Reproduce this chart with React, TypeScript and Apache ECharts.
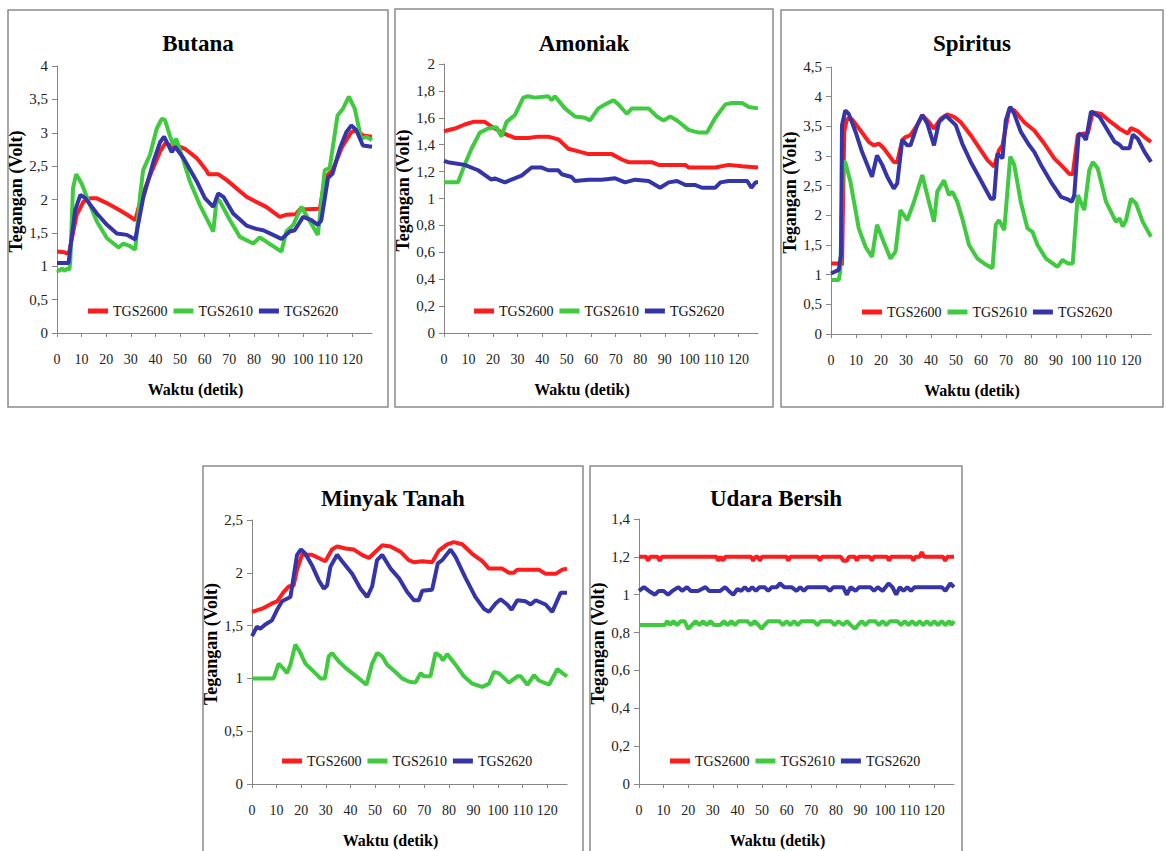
import React, { useEffect, useRef } from 'react';
import * as echarts from 'echarts';

// ---------- data ----------
const SENSORS = ['TGS2600', 'TGS2610', 'TGS2620'];
const COLORS = ['#ff1c1c', '#3fca3f', '#3535a9'];
const TITLES = ['Butana', 'Amoniak', 'Spiritus', 'Minyak Tanah', 'Udara Bersih'];
const X_TICKS = [0, 10, 20, 30, 40, 50, 60, 70, 80, 90, 100, 110, 120];
const X_MAX = 128;
const Y_MAX = [4, 2, 4.5, 2.5, 1.4];
const Y_STEP = [0.5, 0.2, 0.5, 0.5, 0.2];
const X_NAME = 'Waktu (detik)';
const Y_NAME = 'Tegangan (Volt)';

const butana2600 = [[0,1.22],[3,1.21],[4,1.19],[5,1.22],[6.5,1.5],[8,1.77],[10.8,1.97],[13.5,2.02],[16,2.02],[20,1.95],[25,1.85],[29,1.76],[31.8,1.69],[33.8,1.97],[37.8,2.36],[41.9,2.72],[44,2.84],[46,2.81],[48.6,2.81],[52,2.76],[56.8,2.62],[60.8,2.43],[61.5,2.38],[65.5,2.38],[69,2.29],[77,2.04],[85,1.89],[90.5,1.74],[93,1.77],[97,1.78],[98.6,1.85],[106.8,1.86],[108.8,2.3],[110.5,2.39],[112,2.44],[116,2.8],[119.6,3.01],[121.6,3.04],[124.3,2.96],[128,2.94]];
const butana2610 = [[0,0.95],[1,0.93],[2,0.97],[3,0.93],[4,0.96],[5,0.95],[5.4,1.07],[6.5,2.17],[7.8,2.38],[10,2.24],[12.8,1.97],[16.2,1.67],[20.3,1.42],[25,1.28],[27,1.34],[29.7,1.3],[31.8,1.25],[33.8,2.07],[35,2.44],[37.8,2.67],[40.5,3.06],[42.6,3.21],[43.9,3.19],[46,2.94],[47.3,2.81],[48.4,2.91],[50.7,2.66],[54,2.27],[58,1.92],[63.5,1.52],[64.9,2.02],[66.2,1.97],[70.3,1.69],[74.3,1.44],[79.7,1.34],[82.4,1.43],[85,1.37],[91.2,1.22],[93.2,1.52],[96,1.62],[99.3,1.89],[102,1.72],[106,1.47],[108.8,2.44],[110.8,2.47],[114,3.26],[116.2,3.36],[118.6,3.54],[121,3.36],[123.6,2.91],[125.7,2.94],[128,2.89]];
const butana2620 = [[0,1.05],[4.7,1.05],[5.4,1.27],[7.4,1.84],[9.5,2.07],[11.5,2.02],[16.2,1.79],[20.3,1.62],[24.3,1.49],[28.4,1.47],[31.8,1.4],[35,2.02],[39.2,2.57],[41.9,2.86],[43.5,2.94],[45.3,2.81],[46.6,2.71],[48,2.79],[51.4,2.62],[56.8,2.27],[60.1,2.02],[63.5,1.89],[65.5,2.09],[67.6,2.04],[71.6,1.79],[77,1.61],[81,1.56],[83.8,1.54],[87.8,1.47],[91.2,1.41],[94.6,1.52],[96.6,1.54],[100,1.74],[103.4,1.69],[106,1.62],[107.4,1.69],[110.1,2.32],[112,2.39],[114.9,2.76],[117.6,3.01],[119.6,3.11],[121.6,3.04],[124.3,2.81],[128,2.79]];

const amoniak2600 = [[0,1.5],[4.4,1.52],[8.4,1.55],[11.9,1.57],[16.6,1.57],[20.7,1.52],[24.8,1.48],[28.9,1.45],[34.3,1.45],[38.4,1.46],[42.5,1.46],[46.6,1.44],[50.7,1.37],[54.8,1.35],[58.9,1.33],[68.4,1.33],[72.5,1.29],[75.2,1.27],[84.7,1.27],[87.5,1.25],[98.4,1.25],[99.7,1.23],[110.6,1.23],[116,1.25],[121.5,1.24],[128,1.23]];
const amoniak2610 = [[0,1.12],[5.7,1.12],[8.4,1.25],[11.2,1.37],[14.6,1.49],[18,1.52],[21.4,1.53],[23.4,1.46],[25.5,1.57],[28.9,1.62],[32.3,1.75],[34.3,1.76],[37,1.75],[42.5,1.76],[43.9,1.73],[45.2,1.76],[49.3,1.67],[53.4,1.61],[57.5,1.6],[59.5,1.58],[62.9,1.67],[65.7,1.7],[69.1,1.73],[71.1,1.7],[74.5,1.63],[76.6,1.67],[83.4,1.67],[86.8,1.61],[89.5,1.58],[92.2,1.61],[95,1.58],[99.7,1.51],[103.8,1.49],[107.2,1.49],[110.6,1.6],[114.7,1.7],[117.4,1.71],[121.5,1.71],[124.3,1.68],[128,1.67]];
const amoniak2620 = [[0,1.28],[1.6,1.27],[8.4,1.25],[13.9,1.21],[19.3,1.14],[20.7,1.15],[24.8,1.12],[27.5,1.14],[31.6,1.17],[35.7,1.23],[39.8,1.23],[42.5,1.21],[46.6,1.21],[48,1.18],[52,1.16],[53.4,1.13],[58.9,1.14],[64.3,1.14],[69.8,1.15],[73.8,1.12],[77.9,1.14],[83.4,1.13],[88.1,1.08],[91.6,1.12],[95,1.13],[98.4,1.1],[102.5,1.1],[105.2,1.08],[110.6,1.08],[112.7,1.12],[116,1.13],[120.2,1.13],[123.6,1.13],[125.3,1.08],[127,1.12],[128,1.12]];

const spiritus2600 = [[0,1.19],[3.7,1.19],[4.4,1.16],[5.3,3.41],[6.4,3.63],[8.4,3.62],[11.8,3.43],[15.1,3.24],[17.1,3.18],[19.1,3.21],[21.1,3.13],[25.1,2.9],[26.5,2.9],[28.5,3.27],[29.8,3.32],[31.8,3.35],[34.5,3.52],[36.5,3.69],[39.2,3.57],[41.2,3.46],[43.9,3.63],[46.5,3.7],[49.2,3.66],[51.9,3.57],[55.9,3.35],[59.9,3.1],[62.6,2.93],[65.2,2.82],[67.2,3.1],[68.6,3.18],[71.3,3.8],[73.3,3.77],[77.3,3.57],[81.3,3.43],[85.3,3.21],[89.3,2.96],[93.3,2.79],[95.3,2.7],[96.7,2.69],[98.7,3.35],[101.3,3.38],[102.7,3.38],[104.7,3.74],[108,3.71],[112,3.57],[115.4,3.46],[118.7,3.38],[120,3.47],[122.7,3.42],[125.4,3.32],[128,3.24]];
const spiritus2610 = [[0,0.91],[3.1,0.91],[3.7,1.05],[4.8,2.9],[5.7,2.9],[7.8,2.56],[11.1,1.78],[13.8,1.47],[16.4,1.3],[18.4,1.84],[21.1,1.55],[23.8,1.27],[25.8,1.39],[27.8,2.09],[30.5,1.92],[33.2,2.23],[36.5,2.68],[38.5,2.34],[41.2,1.89],[42.5,2.4],[45.2,2.59],[47.2,2.34],[48.5,2.4],[50.5,2.23],[52.5,1.95],[55.2,1.5],[58.6,1.27],[61.9,1.17],[64.6,1.11],[65.9,1.84],[67.2,1.92],[69.3,1.75],[71.7,2.99],[73.3,2.85],[75.9,2.23],[78.6,1.78],[80.6,1.72],[82.6,1.5],[86,1.27],[90.6,1.13],[92.6,1.25],[94.7,1.19],[96.7,1.19],[98.7,2.34],[101.3,2.09],[103.3,2.76],[104.7,2.9],[106.7,2.79],[110,2.23],[112.7,2.0],[114,1.89],[115.4,1.95],[116.7,1.81],[118,1.92],[120,2.28],[122,2.2],[124.7,1.89],[128,1.64]];
const spiritus2620 = [[0,1.02],[3.1,1.08],[4,1.33],[4.4,3.52],[5.7,3.77],[7.1,3.71],[9.8,3.41],[12.4,3.07],[15.1,2.79],[16.4,2.65],[18.4,3.01],[20.5,2.85],[22.5,2.65],[25.1,2.45],[26.5,2.54],[28.5,3.27],[30.5,3.18],[31.8,3.18],[34.5,3.52],[36.5,3.69],[38.5,3.55],[41.2,3.18],[43.2,3.57],[45.9,3.68],[47.9,3.6],[49.9,3.52],[52.5,3.21],[55.9,2.9],[59.9,2.59],[63.9,2.28],[65.2,2.28],[66.6,3.04],[68.6,2.96],[69.9,3.6],[71.7,3.83],[73.3,3.71],[75.9,3.41],[79.3,3.18],[81.3,3.07],[84,2.85],[88,2.56],[92,2.31],[94.7,2.27],[96.3,2.23],[97.3,2.34],[99.1,3.38],[100.7,3.35],[102,3.27],[104,3.75],[107.4,3.66],[110.7,3.43],[113.4,3.24],[115.4,3.19],[116.7,3.13],[119.4,3.13],[120.7,3.36],[122.7,3.29],[125.4,3.07],[128,2.9]];

const minyak2600 = [[0,1.63],[4.1,1.66],[8.1,1.71],[10.2,1.73],[12.9,1.82],[14.9,1.87],[16.9,1.88],[18.3,2.03],[20.3,2.17],[24.4,2.17],[27.1,2.14],[29.8,2.11],[32.5,2.22],[34.6,2.25],[38,2.23],[41.4,2.22],[44.7,2.17],[47.5,2.14],[50.2,2.2],[52.9,2.26],[56.3,2.25],[60.3,2.2],[63.7,2.12],[65.8,2.1],[69.2,2.11],[73.2,2.1],[75.9,2.21],[79.3,2.27],[82,2.29],[85.4,2.27],[89.5,2.18],[93.6,2.11],[96.3,2.04],[101.7,2.04],[104.4,2.0],[106.4,2.0],[107.8,2.03],[116.6,2.03],[119.3,1.99],[123.4,1.99],[126.1,2.03],[128,2.04]];
const minyak2610 = [[0,1.0],[8.8,1.0],[10.8,1.14],[12.5,1.1],[14.2,1.05],[15.6,1.13],[17.6,1.32],[19.7,1.24],[21.7,1.14],[24.4,1.08],[27.8,1.0],[29.6,1.0],[31.2,1.21],[32.5,1.24],[35.3,1.16],[38,1.1],[40.7,1.05],[43.4,1.0],[46.5,0.94],[48.8,1.14],[50.8,1.24],[52.9,1.21],[54.9,1.13],[58.3,1.06],[61,1.0],[63.7,0.97],[66.4,0.96],[68.5,1.05],[69.8,1.02],[72.5,1.02],[74.6,1.24],[76.6,1.21],[77.6,1.17],[79.3,1.23],[82.7,1.13],[86.1,1.02],[89.5,0.95],[93.6,0.92],[96.3,0.95],[98.3,1.06],[100.3,1.05],[104.4,0.96],[107.8,1.02],[109.2,1.02],[111.9,0.94],[114.6,1.03],[116.6,0.98],[120.7,0.94],[124.1,1.09],[126.1,1.05],[128,1.02]];
const minyak2620 = [[0,1.4],[2,1.49],[3.4,1.47],[5.4,1.51],[8.1,1.55],[10.2,1.65],[12.2,1.73],[15.6,1.77],[16.9,1.96],[18.3,2.17],[19.9,2.22],[21.7,2.18],[24.4,2.07],[27.1,1.93],[29.2,1.85],[30.5,1.88],[31.9,2.06],[34.6,2.17],[36.6,2.11],[40.7,1.99],[44.1,1.85],[46.8,1.77],[48.8,1.87],[50.8,2.12],[52.9,2.17],[56.3,2.04],[59.7,1.95],[63,1.82],[65.8,1.74],[67.8,1.74],[69.2,1.83],[73.2,1.84],[75.5,2.09],[77.3,2.12],[80.7,2.22],[82.7,2.15],[86.8,1.95],[90.8,1.77],[94.2,1.66],[96.3,1.63],[99,1.71],[101,1.75],[103.7,1.7],[105.5,1.65],[107.8,1.74],[111.2,1.73],[113.2,1.7],[115.3,1.74],[119.3,1.7],[122,1.63],[125.4,1.81],[128,1.81]];

const udara2600 = [[0,1.2],[3,1.2],[3.7,1.18],[4.5,1.2],[7.5,1.2],[8.4,1.18],[9.3,1.2],[31.5,1.2],[32.2,1.18],[33.2,1.2],[34.2,1.18],[35,1.2],[45.5,1.2],[46.4,1.18],[47.3,1.2],[48.3,1.2],[49.1,1.18],[50,1.2],[60,1.2],[60.7,1.18],[61.5,1.2],[72.7,1.2],[73.5,1.18],[74.3,1.2],[82,1.2],[83,1.18],[84.4,1.18],[85.3,1.2],[87.7,1.2],[88.5,1.18],[89.3,1.2],[93.8,1.2],[94.6,1.18],[95.4,1.2],[100.8,1.2],[101.6,1.18],[102.4,1.2],[110.7,1.2],[111.5,1.18],[112.3,1.2],[114,1.2],[114.9,1.225],[115.8,1.2],[123.5,1.2],[124.4,1.18],[125.3,1.2],[128,1.2]];
const udara2610 = [[0,0.84],[10.5,0.84],[11.5,0.86],[12.5,0.84],[14,0.86],[15.5,0.84],[17,0.86],[18.5,0.86],[20,0.82],[21.5,0.84],[23,0.86],[24.5,0.84],[26,0.86],[27.5,0.84],[29,0.86],[30.5,0.84],[33,0.84],[34.5,0.86],[36,0.84],[37.5,0.86],[39,0.84],[40.5,0.86],[44,0.86],[45.5,0.84],[47,0.86],[48.5,0.84],[49.8,0.82],[51,0.84],[52.5,0.86],[57,0.86],[58.5,0.84],[60,0.86],[61.5,0.84],[63,0.86],[64.5,0.84],[66,0.86],[71,0.86],[72.5,0.84],[74,0.86],[78,0.86],[79.5,0.84],[81,0.86],[83,0.84],[84.5,0.86],[86,0.84],[87.8,0.82],[89,0.84],[90.5,0.86],[92,0.84],[93.5,0.86],[96,0.86],[97.5,0.84],[99,0.86],[100.5,0.84],[102,0.86],[105,0.86],[106.5,0.84],[108,0.86],[109.5,0.84],[111,0.86],[112.5,0.84],[114,0.86],[115.5,0.84],[117,0.86],[118.5,0.84],[120,0.86],[121.5,0.84],[123,0.86],[124.5,0.84],[126,0.86],[127,0.84],[128,0.86]];
const udara2620 = [[0,1.02],[2,1.04],[4,1.02],[6.5,1.0],[8,1.02],[10,1.02],[11.8,1.0],[13.5,1.02],[16,1.04],[17.5,1.02],[19.5,1.04],[21,1.02],[24,1.02],[27,1.04],[28.5,1.02],[33,1.02],[35,1.04],[36.5,1.02],[38.3,1.0],[40,1.03],[41.5,1.02],[43,1.04],[44.5,1.02],[46,1.04],[47.5,1.02],[49,1.04],[51,1.04],[52.5,1.02],[54,1.04],[56,1.04],[57.3,1.06],[59,1.04],[62,1.04],[64,1.02],[65.5,1.04],[67,1.02],[68.5,1.04],[76,1.04],[77.5,1.02],[79,1.04],[83,1.04],[84.4,1.0],[86,1.04],[88,1.02],[89.5,1.04],[94,1.04],[95.5,1.02],[97,1.04],[99,1.02],[101.4,1.06],[103,1.04],[104.5,1.0],[106,1.04],[107.5,1.02],[109,1.04],[110.5,1.02],[112,1.04],[123,1.04],[124.5,1.02],[126.5,1.06],[128,1.04]];

const PANEL_DATA = [
  [butana2600, butana2610, butana2620],
  [amoniak2600, amoniak2610, amoniak2620],
  [spiritus2600, spiritus2610, spiritus2620],
  [minyak2600, minyak2610, minyak2620],
  [udara2600, udara2610, udara2620],
];

// ---------- layout ----------
const FONT = 'Liberation Serif';
const BOXES = [
  [8, 10, 380, 397],
  [395, 9, 378, 398],
  [781, 10, 382, 397],
  [203, 466, 380, 400],
  [590, 466, 372, 400],
];
const GRIDS = [
  [57, 66, 315, 267],
  [444, 64, 314, 269],
  [831, 67, 320, 267],
  [252, 520, 315, 264],
  [639, 519, 315, 265],
];
const LEGEND_POS = [
  [88, 312],
  [474, 312],
  [862, 313],
  [282, 762],
  [670, 762],
];
const TITLE_Y = [43, 43, 43, 498, 498];

const fmt = (v: number) => String(Number(v.toFixed(2))).replace('.', ',');

export default function App() {
  const ref = useRef<HTMLDivElement>(null);
  useEffect(() => {
    if (!ref.current) return;
    const chart = echarts.init(ref.current, null, { renderer: 'svg' });
    const axisColor = '#868686';
    const graphics: any[] = [];
    BOXES.forEach(([x, y, w, h], i) => {
      graphics.push({
        type: 'rect',
        shape: { x, y, width: w, height: h },
        style: { fill: 'none', stroke: '#8a8a8a', lineWidth: 1.5 },
        silent: true,
        z: 0,
      });
      graphics.push({
        type: 'text',
        x: x + w / 2,
        y: TITLE_Y[i],
        style: {
          text: TITLES[i],
          align: 'center',
          verticalAlign: 'middle',
          fontFamily: FONT,
          fontWeight: 'bold',
          fontSize: 23,
          fill: '#000',
        },
        silent: true,
      });
    });

    const option: any = {
      animation: false,
      backgroundColor: '#fff',
      graphic: graphics,
      grid: GRIDS.map(([l, t, w, h]) => ({ left: l, top: t, width: w, height: h, containLabel: false })),
      legend: LEGEND_POS.map(([l, cy]) => ({
        left: l,
        top: cy - 8,
        padding: 0,
        icon: 'rect',
        itemWidth: 20,
        itemHeight: 5,
        itemGap: 6,
        selectedMode: false,
        data: SENSORS,
        textStyle: { fontFamily: FONT, fontSize: 14, color: '#111' },
      })),
      xAxis: GRIDS.map((_, i) => ({
        gridIndex: i,
        type: 'value',
        min: 0,
        max: X_MAX,
        interval: 10,
        axisLine: { show: true, onZero: false, lineStyle: { color: axisColor, width: 1 } },
        axisTick: { show: true, length: 4, customValues: X_TICKS, lineStyle: { color: axisColor } },
        axisLabel: { customValues: X_TICKS, margin: 19, fontFamily: FONT, fontSize: 14, color: '#222' },
        splitLine: { show: false },
        name: X_NAME,
        nameLocation: 'middle',
        nameGap: 48,
        nameTextStyle: { fontFamily: FONT, fontWeight: 'bold', fontSize: 16, color: '#000', padding: [0, 38, 0, 0] },
      })),
      yAxis: GRIDS.map((_, i) => ({
        gridIndex: i,
        type: 'value',
        min: 0,
        max: Y_MAX[i],
        interval: Y_STEP[i],
        axisLine: { show: true, lineStyle: { color: axisColor, width: 1 } },
        axisTick: { show: true, length: 5, lineStyle: { color: axisColor } },
        axisLabel: { margin: 9, formatter: fmt, fontFamily: FONT, fontSize: 15, color: '#222' },
        splitLine: { show: false },
        name: Y_NAME,
        nameLocation: 'middle',
        nameGap: 27,
        nameTextStyle: { fontFamily: FONT, fontWeight: 'bold', fontSize: 18, color: '#000', padding: [0, 0, 0, 16] },
      })),
      series: PANEL_DATA.flatMap((sets, i) =>
        sets.map((data, j) => ({
          type: 'line',
          name: SENSORS[j],
          xAxisIndex: i,
          yAxisIndex: i,
          data,
          symbol: 'none',
          showSymbol: false,
          lineStyle: { width: 4, color: COLORS[j] },
          itemStyle: { color: COLORS[j] },
        }))
      ),
    };
    chart.setOption(option);
    return () => chart.dispose();
  }, []);
  return (
    <div
      ref={ref}
      style={{ position: 'fixed', left: 0, top: 0, width: 1166, height: 851, background: '#fff' }}
    />
  );
}
